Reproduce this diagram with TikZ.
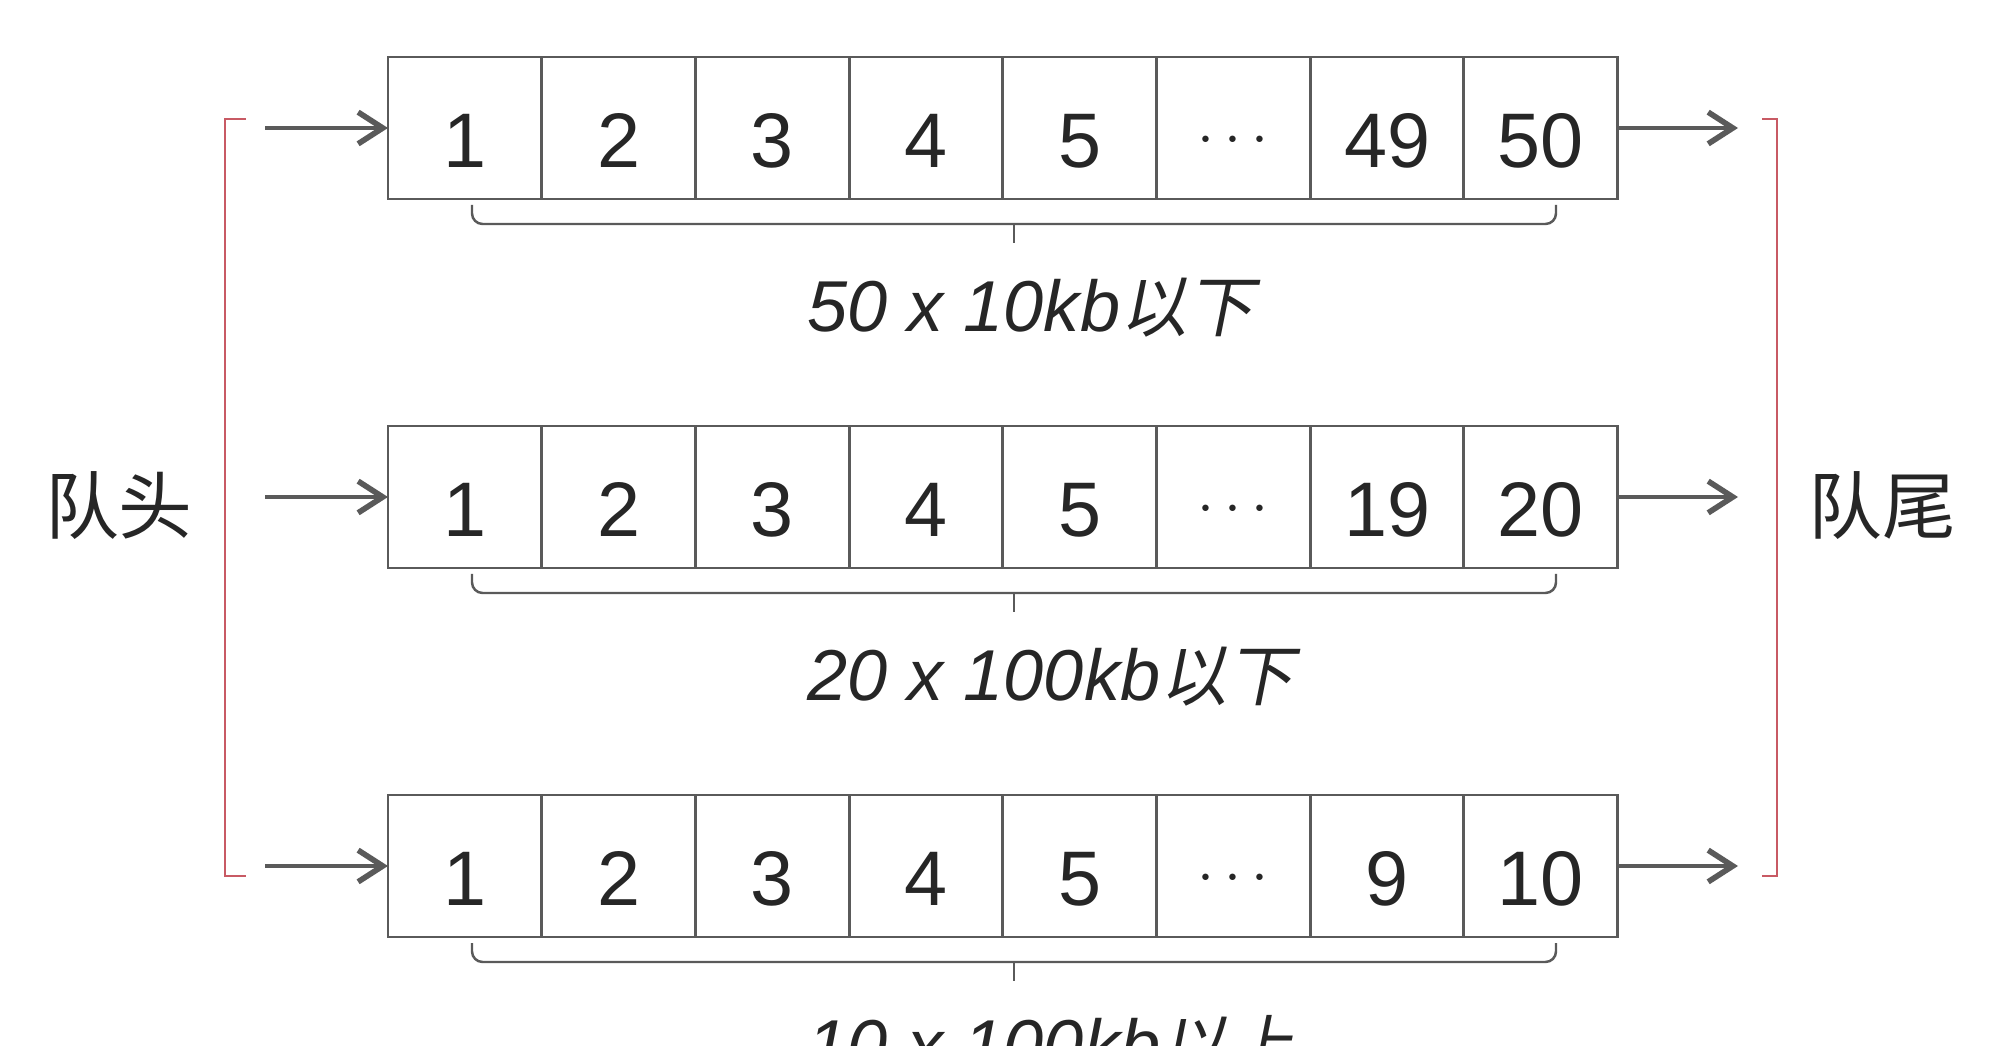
\documentclass[tikz,border=0pt]{standalone}
\usepackage{fontspec}
\setmainfont{Liberation Sans}
\newfontfamily\cjk{Noto Sans CJK SC}
\newfontfamily\cjkslant[FakeSlant=0.2]{Noto Sans CJK SC}
\newcommand{\sizecjk}[1]{{\cjkslant\fontsize{19}{22}\selectfont #1}}
\newcommand{\skipcells}{\raisebox{1.3mm}{\fontsize{17}{20}\selectfont$\cdots$}}
\usetikzlibrary{arrows.meta,positioning}
\definecolor{linegray}{HTML}{5A5A5A}
\definecolor{bracketred}{HTML}{C85A64}
\definecolor{textdark}{HTML}{262626}
\tikzset{
  every picture/.style = {
    line width = 0.9pt,
    >={Straight Barb[length=7pt,width=9pt,line width=1.6pt]},
  }
  ,
  cell/.style = {
    rectangle,
    draw = linegray,
    line width = 0.8pt,
    minimum width = 1.537cm,
    minimum height = 1.42cm,
    inner sep = 0pt,
    outer sep = 0pt,
    text height = 0.786cm,
    text depth = 0pt,
    text = textdark,
    font = \fontsize{22}{25}\selectfont
  }
  ,
  feed/.style = {
    ->,
    draw = linegray,
    line width = 1pt
  }
  ,
  bracket/.style = {
    draw = bracketred,
    line width = 0.8pt
  }
  , % brace under each queue
  span/.style = {
    draw = linegray,
    line width = 0.7pt,
    rounded corners = 3pt
  }
  , % size of the queue
  label-size/.style = {
    anchor = west,
    inner sep = 0pt,
    text = textdark,
    font = \fontsize{20.5}{24}\selectfont\itshape
  }
  , % head and tail
  label-end/.style = {
    text = textdark,
    font = \cjk\fontsize{21}{24}\selectfont
  }
}

\begin{document}
\begin{tikzpicture}[x=0.01cm, y=-0.01cm]
    \clip (0,0) rectangle (2008,1046);
    \foreach \r/\yc/\pen/\last/\sz in {1/128/49/50/{50 x 10kb\sizecjk{以下}},
                                      2/497/19/20/{20 x 100kb\sizecjk{以下}},
                                      3/866/9/10/{10 x 100kb\sizecjk{以上}}}{
      \foreach \v [count=\i] in {1,2,3,4,5,\skipcells,\pen,\last}
        \node[cell] (q\r-\i) at ({388+153.7*(\i-0.5)},\yc) {\v};
      \coordinate (in\r) at (265,\yc);
      \coordinate (out\r) at (1738,\yc);
      \draw[feed] (in\r) -- (q\r-1.west);
      \draw[feed] (q\r-8.east) -- (out\r);
      \draw[span] (472,{\yc+77}) -- (472,{\yc+96}) -- (1556,{\yc+96}) -- (1556,{\yc+77});
      \draw[span] (1014,{\yc+96}) -- (1014,{\yc+115});
      \node[label-size] (size\r) at (806,{\yc+180}) {\sz};
    }
    \draw[bracket] (246,119) -- (225,119) -- (225,876) -- (246,876);
    \draw[bracket] (1762,119) -- (1777,119) -- (1777,876) -- (1762,876);
    \node[label-end] (head) at (119,506) {队头};
    \node[label-end] (tail) at (1882,506) {队尾};
\end{tikzpicture}
\end{document}
